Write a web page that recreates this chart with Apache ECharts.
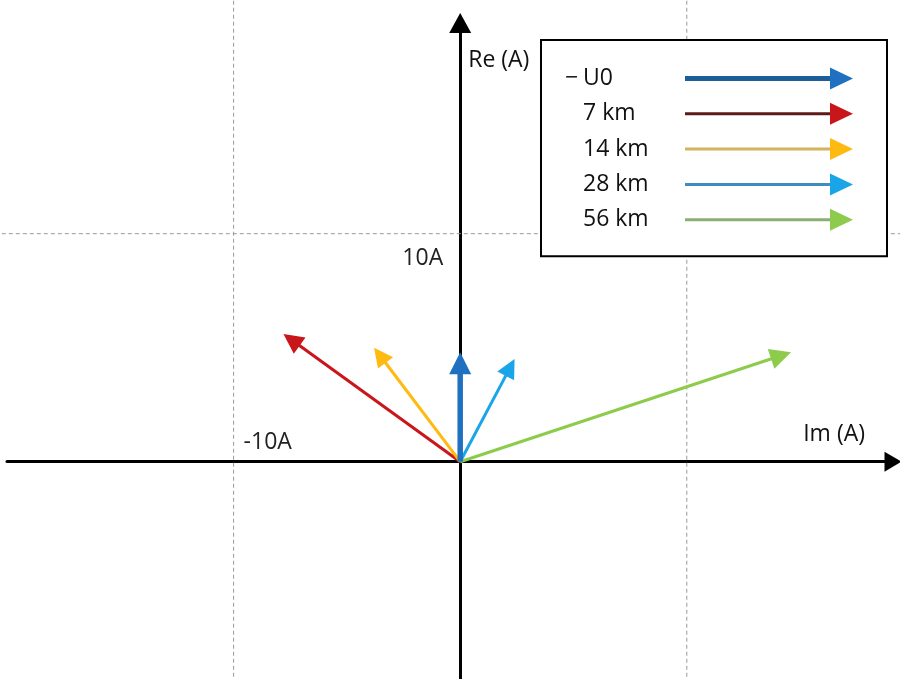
<!DOCTYPE html>
<html>
<head>
<meta charset="utf-8">
<script src="https://cdn.jsdelivr.net/npm/echarts@6/dist/echarts.min.js"></script>
<style>
  html, body { margin: 0; padding: 0; background: #fff; }
  #chart { width: 900px; height: 679px; }
</style>
</head>
<body>
<div id="chart"></div>
<script>
// Current phasors (amps): imaginary part on the horizontal axis, real part on the vertical axis
const phasorNames = ['−U0', '7 km', '14 km', '28 km', '56 km'];
const imParts = [0, -7.8, -3.8, 2.4, 14.6];
const reParts = [4.8, 5.6, 5.0, 4.5, 4.8];
const phasorColors = ['#1F70C1', '#C8161A', '#FFBA12', '#1AA5E8', '#8DCB4C'];
const legendShaftColors = ['#1E5E98', '#5E1A1A', '#D2B25C', '#3F8DBE', '#8BAE73'];

// Dashed reference lines and the labelled ticks
const imGridValues = [-10, 10];
const reGridValues = [10];
const imTickLabels = [-10];
const reTickLabels = [10];
const unit = 'A';

const FONT = 'Open Sans';
const TEXT = '#111';
const shaftWidths = [5.5, 3, 3, 3, 3];
const headSizes = [22, 20, 19, 19, 21];
const GRID = { left: 7, right: 7, top: 23, bottom: 0 };

function arrowRenderer(idx) {
  return function (params, api) {
    const tip = api.coord([api.value(0), api.value(1)]);
    const o = api.coord([0, 0]);
    const dx = tip[0] - o[0], dy = tip[1] - o[1];
    const len = Math.hypot(dx, dy);
    const ux = dx / len, uy = dy / len;
    const h = headSizes[idx];
    const bx = tip[0] - ux * h, by = tip[1] - uy * h;
    const nx = -uy, ny = ux, hw = h * 0.5;
    const color = phasorColors[idx];
    return {
      type: 'group',
      children: [
        { type: 'line', shape: { x1: o[0], y1: o[1], x2: bx + ux * 2, y2: by + uy * 2 },
          style: { stroke: color, lineWidth: shaftWidths[idx] } },
        { type: 'polygon', shape: { points: [tip, [bx + nx * hw, by + ny * hw], [bx - nx * hw, by - ny * hw]] },
          style: { fill: color } }
      ]
    };
  };
}

function dashedLine(p1, p2) {
  return { type: 'line', shape: { x1: p1[0], y1: p1[1], x2: p2[0], y2: p2[1] },
           style: { stroke: '#9a9a9a', lineWidth: 1, lineDash: [4, 3] } };
}

const thickIcon = 'path://M0,8.5L146,8.5L146,13.5L0,13.5Z M145,0L168,11L145,22Z';
const thinIcon = 'path://M0,9.5L146,9.5L146,12.5L0,12.5Z M145,0L168,11L145,22Z';

function legendFill(i) {
  return new echarts.graphic.LinearGradient(0, 0, 1, 0, [
    { offset: 0, color: legendShaftColors[i] },
    { offset: 0.862, color: legendShaftColors[i] },
    { offset: 0.862, color: phasorColors[i] },
    { offset: 1, color: phasorColors[i] }
  ]);
}

const chart = echarts.init(document.getElementById('chart'), null, { renderer: 'canvas' });

const series = [
  {
    type: 'custom', name: 'im-grid', silent: true, z: 1,
    data: imGridValues.map(v => [v, 0]), encode: { x: 0, y: 1 },
    renderItem: (p, api) => dashedLine(api.coord([api.value(0), -30]), api.coord([api.value(0), 40]))
  },
  {
    type: 'custom', name: 're-grid', silent: true, z: 1,
    data: reGridValues.map(v => [0, v]), encode: { x: 0, y: 1 },
    renderItem: (p, api) => dashedLine(api.coord([-40, api.value(1)]), api.coord([40, api.value(1)]))
  }
];

phasorNames.forEach((name, i) => {
  series.push({
    type: 'custom',
    name: name,
    z: i === 0 ? 4 : 3,
    data: [[imParts[i], reParts[i]]],
    encode: { x: 0, y: 1 },
    itemStyle: { color: phasorColors[i] },
    renderItem: arrowRenderer(i)
  });
});

const richBase = { fontFamily: FONT, fontSize: 23, color: TEXT, lineHeight: 22, align: 'left' };

chart.setOption({
  animation: false,
  backgroundColor: '#fff',
  grid: Object.assign({ outerBoundsMode: 'none', containLabel: false }, GRID),
  xAxis: {
    type: 'value', min: -20, max: 19.1, position: 'bottom',
    axisLine: { onZero: false, lineStyle: { color: '#000', width: 3 },
                symbol: ['none', 'triangle'], symbolSize: [20, 17] },
    axisTick: { show: false },
    splitLine: { show: false },
    axisLabel: {
      customValues: imTickLabels, formatter: v => v + unit,
      inside: true, align: 'left', padding: [0, 0, 0, 10], margin: 8,
      fontFamily: FONT, fontSize: 23, color: '#222'
    },
    name: 'Im (A)', nameLocation: 'end', nameGap: -28,
    nameTextStyle: { fontFamily: FONT, fontSize: 23, color: TEXT, align: 'right',
                     verticalAlign: 'bottom', padding: [0, 0, 16, 0] }
  },
  yAxis: {
    type: 'value', min: -9.53, max: 19.24, position: 'left',
    axisLine: { onZero: false, lineStyle: { color: '#000', width: 3 },
                symbol: ['none', 'triangle'], symbolSize: [22, 20] },
    axisTick: { show: false },
    splitLine: { show: false },
    axisLabel: {
      customValues: reTickLabels, formatter: v => v + unit,
      margin: 17, verticalAlign: 'top', padding: [13, 0, 0, 0],
      fontFamily: FONT, fontSize: 23, color: '#222'
    },
    name: 'Re (A)', nameLocation: 'end', nameGap: -37,
    nameTextStyle: { fontFamily: FONT, fontSize: 23, color: TEXT, align: 'left',
                     verticalAlign: 'middle', padding: [0, 0, 0, 8] }
  },
  legend: {
    orient: 'vertical', left: 541, top: 40, align: 'right',
    padding: [27, 34, 25, 24], itemWidth: 168, itemHeight: 22, itemGap: 12.3,
    backgroundColor: '#fff', borderColor: '#000', borderWidth: 2,
    selectedMode: false,
    textStyle: {
      fontFamily: FONT, fontSize: 23, color: TEXT, lineHeight: 22,
      rich: {
        d: Object.assign({ width: 18 }, richBase),
        t: Object.assign({ width: 97 }, richBase)
      }
    },
    formatter: name => name.charAt(0) === '−'
      ? '{d|−}{t|' + name.slice(1) + '}'
      : '{t|' + name + '}',
    data: phasorNames.map((name, i) => ({
      name: name,
      icon: i === 0 ? thickIcon : thinIcon,
      itemStyle: { color: legendFill(i) }
    }))
  },
  series: series
});

// Move both axes so they cross at the origin; labels and names travel with them
const origin = chart.convertToPixel({ gridIndex: 0 }, [0, 0]);
chart.setOption({
  xAxis: { offset: -(679 - GRID.bottom - origin[1]) },
  yAxis: { offset: -(origin[0] - GRID.left) }
});
</script>
</body>
</html>
